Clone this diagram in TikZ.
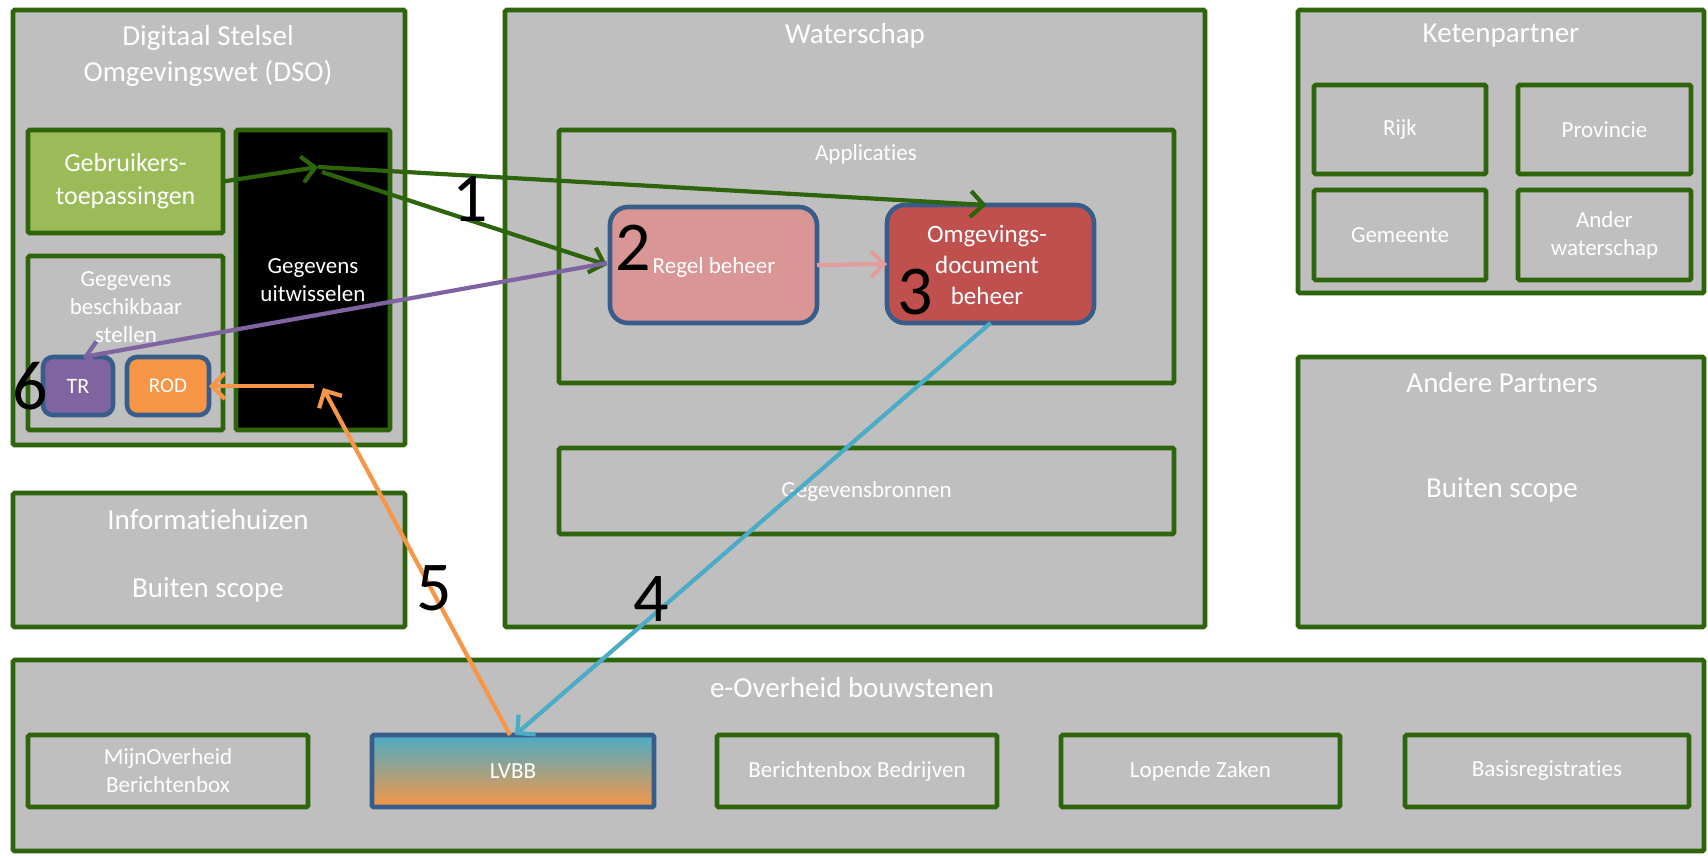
\documentclass[tikz,border=0pt]{standalone}
\usepackage{fontspec}
\setmainfont{Carlito}[Ligatures=NoCommon]
\usetikzlibrary{arrows.meta}
\definecolor{boxgrey}{RGB}{191,191,191}
\definecolor{dkgreen}{RGB}{45,100,12}
\definecolor{ltgreen}{RGB}{155,187,89}
\definecolor{appblue}{RGB}{56,93,138}
\definecolor{trpurple}{RGB}{128,100,162}
\definecolor{rodorange}{RGB}{247,150,70}
\definecolor{regelpink}{RGB}{217,150,148}
\definecolor{omgred}{RGB}{192,80,77}
\definecolor{arrpink}{RGB}{225,158,156}
\definecolor{lvcyan}{RGB}{75,172,198}
\begin{document}
\begin{tikzpicture}[x=1pt,y=-1pt,
  gbox/.style={draw=dkgreen, line width=4.6pt, fill=boxgrey, rounded corners=1.5pt, inner sep=0pt, outer sep=0pt},
  abox/.style={draw=appblue, line width=4.6pt, rounded corners=14pt, inner sep=0pt, outer sep=0pt},
  bigtxt/.style={text=white, font=\fontsize{29}{36}\selectfont, align=center, inner sep=0pt},
  smalltxt/.style={text=white, font=\fontsize{23}{28}\selectfont, align=center, inner sep=0pt},
  numtxt/.style={text=black, font=\fontsize{70}{70}\selectfont, inner sep=0pt},
  arr/.style={line width=4.2pt, -{Straight Barb[length=13pt,width=26pt,line width=4.2pt]}}
]
\useasboundingbox[fill=white] (0,0) rectangle (1708,855);

% DSO
\node[gbox, minimum width=392pt, minimum height=435pt] (dso) at (209,227.5) {};
\node[bigtxt] (dsot) at (208,56) {Digitaal Stelsel\\Omgevingswet (DSO)};
\node[gbox, fill=ltgreen, minimum width=195pt, minimum height=103pt] (gebr) at (125.5,181.5) {};
\node[text=white, font=\fontsize{26}{33}\selectfont, align=center, inner sep=0pt] (gebrt) at (125.5,181.5) {Gebruikers-\\toepassingen};
\node[gbox, fill=black, minimum width=154pt, minimum height=300pt] (uitw) at (313,280) {};
\node[smalltxt] (uitwt) at (313,280) {Gegevens\\uitwisselen};
\node[gbox, minimum width=195pt, minimum height=174pt] (besch) at (125.5,343) {};
\node[smalltxt] (bescht) at (126,307) {Gegevens\\beschikbaar\\stellen};
\node[abox, fill=trpurple, rounded corners=10pt, minimum width=70pt, minimum height=58pt, smalltxt, font=\fontsize{22}{26}\selectfont] (tr) at (78,386) {TR};
\node[abox, fill=rodorange, rounded corners=10pt, minimum width=82pt, minimum height=58pt, smalltxt, font=\fontsize{21}{26}\selectfont] (rod) at (168,386) {ROD};

% Waterschap
\node[gbox, minimum width=700pt, minimum height=617pt] (ws) at (855,318.5) {};
\node[bigtxt] (wst) at (855,36) {Waterschap};
\node[gbox, minimum width=615pt, minimum height=253pt] (app) at (866.5,256.5) {};
\node[smalltxt] (appt) at (866,154) {Applicaties};
\node[abox, fill=regelpink, rounded corners=18pt, minimum width=207pt, minimum height=116pt] (regel) at (713.5,265) {};
\node[smalltxt] (regelt) at (714,267) {Regel beheer};
\node[abox, fill=omgred, rounded corners=18pt, minimum width=207pt, minimum height=118pt] (omg) at (990.5,264) {};
\node[text=white, font=\fontsize{25}{31}\selectfont, align=center, inner sep=0pt] (omgt) at (987,265) {Omgevings-\\document\\beheer};
\node[gbox, minimum width=615pt, minimum height=86pt] (bron) at (866.5,491) {};
\node[smalltxt] (bront) at (866.5,491) {Gegevensbronnen};

% Ketenpartner
\node[gbox, minimum width=406pt, minimum height=283pt] (kp) at (1501,151.5) {};
\node[bigtxt] (kpt) at (1501,36) {Ketenpartner};
\node[gbox, minimum width=172pt, minimum height=89pt, smalltxt] (rijk) at (1400,129.5) {Rijk};
\node[gbox, minimum width=173pt, minimum height=89pt, smalltxt] (prov) at (1604.5,129.5) {Provincie};
\node[gbox, minimum width=172pt, minimum height=90pt, smalltxt] (gem) at (1400,235) {Gemeente};
\node[gbox, minimum width=173pt, minimum height=90pt, smalltxt] (anderws) at (1604.5,235) {Ander\\waterschap};

% Andere partners
\node[gbox, minimum width=406pt, minimum height=270pt] (ap) at (1501,492) {};
\node[bigtxt] (apt) at (1502,383) {Andere Partners};
\node[bigtxt] (apbs) at (1502,490) {Buiten scope};

% Informatiehuizen
\node[gbox, minimum width=392pt, minimum height=134pt] (ih) at (209,560) {};
\node[bigtxt] (iht) at (208,520) {Informatiehuizen};
\node[bigtxt] (ihbs) at (208,590) {Buiten scope};

% e-Overheid
\node[gbox, minimum width=1691pt, minimum height=191pt] (eo) at (858.5,755.5) {};
\node[bigtxt] (eot) at (852,688) {e-Overheid bouwstenen};
\node[gbox, minimum width=280pt, minimum height=72pt, smalltxt] (mijn) at (168,771) {MijnOverheid\\Berichtenbox};
\node[abox, rounded corners=1.5pt, top color=lvcyan, bottom color=rodorange, minimum width=282pt, minimum height=72pt, smalltxt] (lvbb) at (513,771) {LVBB};
\node[gbox, minimum width=280pt, minimum height=72pt, smalltxt] (bb) at (857,771) {Berichtenbox Bedrijven};
\node[gbox, minimum width=279pt, minimum height=72pt, smalltxt] (lz) at (1200.5,771) {Lopende Zaken};
\node[gbox, minimum width=284pt, minimum height=72pt, smalltxt] (br) at (1547,771) {Basisregistraties};

% connectors
\coordinate (hub) at (318,167);
\coordinate (hubb) at (322,172);
\coordinate (o5) at (323,388);
\coordinate (o6) at (314,386);
\draw[arr, draw=dkgreen] (gebr.east) -- (hub);
\draw[arr, draw=dkgreen] (hub) -- ([xshift=-4pt]omg.north);
\draw[arr, draw=dkgreen] (hubb) -- ([xshift=-3pt]regel.west);
\draw[arr, draw=arrpink] (regel.east) -- (omg.west);
\draw[arr, draw=trpurple] ([xshift=-3pt,yshift=2pt]regel.west) -- ([xshift=5pt]tr.north);
\draw[arr, draw=lvcyan] (omg.south) -- ([xshift=2pt]lvbb.north);
\draw[arr, draw=rodorange] ([xshift=-3pt]lvbb.north) -- (o5);
\draw[arr, draw=rodorange] (o6) -- (rod.east);

% numbers
\node[numtxt] (n1) at (470,199) {1};
\node[numtxt] (n2) at (633,248) {2};
\node[numtxt] (n3) at (915,292) {3};
\node[numtxt] (n4) at (651,599) {4};
\node[numtxt] (n5) at (434,588) {5};
\node[numtxt] (n6) at (30,386) {6};
\end{tikzpicture}
\end{document}
